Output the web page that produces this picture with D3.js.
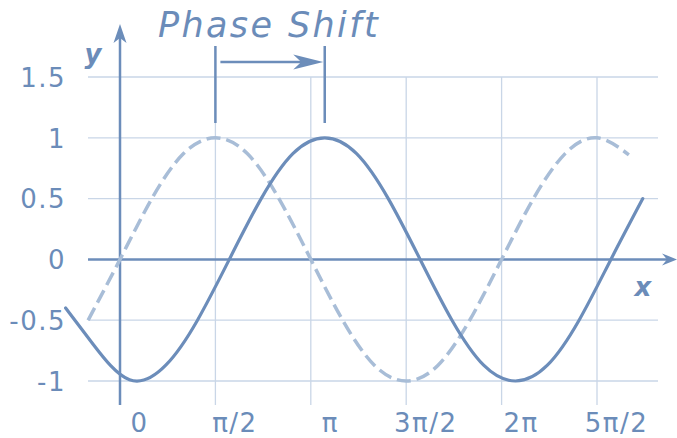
<!DOCTYPE html>
<html>
<head>
<meta charset="utf-8">
<script src="https://cdn.jsdelivr.net/npm/d3@7"></script>
<style>
  body { margin: 0; background: #fff; }
  text { font-family: "DejaVu Sans", Verdana, sans-serif; }
</style>
</head>
<body>
<div id="chart"></div>
<script>
// x values are in units of pi
var yTickValues = [-1, -0.5, 0, 0.5, 1, 1.5];
var yTickLabels = ["-1", "-0.5", "0", "0.5", "1", "1.5"];
var xTickValues = [0, 0.5, 1, 1.5, 2, 2.5];
var xTickLabels = ["0", "π/2", "π", "3π/2", "2π", "5π/2"];

// light dashed curve (original)
var dashX = [-0.167, 0, 0.167, 0.333, 0.5, 0.667, 0.833, 1, 1.167, 1.333, 1.5, 1.667, 1.833, 2, 2.167, 2.333, 2.5, 2.667];
var dashY = [-0.5, 0, 0.5, 0.87, 1, 0.87, 0.5, 0, -0.5, -0.87, -1, -0.87, -0.5, 0, 0.5, 0.87, 1, 0.86];

// solid curve (shifted)
var solidX = [-0.285, -0.14, 0.05, 0.24, 0.406, 0.573, 0.74, 0.906, 1.073, 1.24, 1.406, 1.573, 1.74, 1.906, 2.073, 2.24, 2.406, 2.573, 2.74];
var solidY = [-0.4, -0.7, -0.99, -0.87, -0.5, 0, 0.5, 0.87, 1, 0.87, 0.5, 0, -0.5, -0.87, -1, -0.87, -0.5, 0, 0.5];

// phase shift markers
var shiftFrom = 0.5, shiftTo = 1.073;

var width = 677, height = 438;
var axisColor = "#6c8dba",
  gridColor = "#c9d6e7",
  lightColor = "#a8bdd7",
  textColor = "#6b8cb9";

var x = d3.scaleLinear().domain([0, 2.5]).range([120, 597]);
var y = d3.scaleLinear().domain([-1, 1.5]).range([381, 77]);

var svg = d3
  .select("#chart")
  .append("svg")
  .attr("width", width)
  .attr("height", height);

// grid
svg
  .append("g")
  .selectAll("line")
  .data(yTickValues.filter(function (d) { return d != 0; }))
  .enter()
  .append("line")
  .attr("x1", 88)
  .attr("x2", 658)
  .attr("y1", function (d) { return y(d); })
  .attr("y2", function (d) { return y(d); })
  .attr("stroke", gridColor)
  .attr("stroke-width", 1.3);

svg
  .append("g")
  .selectAll("line")
  .data(xTickValues.filter(function (d) { return d != 0; }))
  .enter()
  .append("line")
  .attr("x1", function (d) { return x(d); })
  .attr("x2", function (d) { return x(d); })
  .attr("y1", y(1.5))
  .attr("y2", 405)
  .attr("stroke", gridColor)
  .attr("stroke-width", 1.3);

// axes lines
svg.append("line")
  .attr("x1", 88).attr("x2", 668)
  .attr("y1", y(0)).attr("y2", y(0))
  .attr("stroke", axisColor).attr("stroke-width", 2.5);
svg.append("line")
  .attr("x1", x(0)).attr("x2", x(0))
  .attr("y1", 405).attr("y2", 35)
  .attr("stroke", axisColor).attr("stroke-width", 2.5);

// arrow heads
function arrowHead(tip, dir, len, half, notch) {
  // dir: unit vector [dx, dy]
  var px = -dir[1], py = dir[0];
  var bx = tip[0] - dir[0] * len, by = tip[1] - dir[1] * len;
  var nx = tip[0] - dir[0] * (len - notch), ny = tip[1] - dir[1] * (len - notch);
  return "M" + tip[0] + "," + tip[1] +
    "L" + (bx + px * half) + "," + (by + py * half) +
    "L" + nx + "," + ny +
    "L" + (bx - px * half) + "," + (by - py * half) + "Z";
}
svg.append("path")
  .attr("d", arrowHead([677, y(0)], [1, 0], 15, 6, 5))
  .attr("fill", axisColor);
svg.append("path")
  .attr("d", arrowHead([x(0), 24], [0, -1], 19, 6.5, 5))
  .attr("fill", axisColor);

// curves
var line = d3
  .line()
  .x(function (d) { return x(d[0]); })
  .y(function (d) { return y(d[1]); })
  .curve(d3.curveNatural);

svg.append("path")
  .datum(d3.zip(dashX, dashY))
  .attr("d", line)
  .attr("fill", "none")
  .attr("stroke", lightColor)
  .attr("stroke-width", 3.5)
  .attr("stroke-dasharray", "14,6");

svg.append("path")
  .datum(d3.zip(solidX, solidY))
  .attr("d", line)
  .attr("fill", "none")
  .attr("stroke", axisColor)
  .attr("stroke-width", 3.2)
  .attr("stroke-linecap", "round");

// phase shift markers
svg.append("g")
  .selectAll("line")
  .data([shiftFrom, shiftTo])
  .enter()
  .append("line")
  .attr("x1", function (d) { return x(d); })
  .attr("x2", function (d) { return x(d); })
  .attr("y1", 46)
  .attr("y2", 123)
  .attr("stroke", axisColor)
  .attr("stroke-width", 2.5);

svg.append("line")
  .attr("x1", x(shiftFrom) + 5).attr("x2", x(shiftTo) - 20)
  .attr("y1", 62).attr("y2", 62)
  .attr("stroke", axisColor).attr("stroke-width", 2.5);
svg.append("path")
  .attr("d", arrowHead([x(shiftTo) - 1.5, 62], [1, 0], 30, 7.5, 8))
  .attr("fill", axisColor);

svg.append("text")
  .attr("x", 269)
  .attr("y", 37)
  .attr("text-anchor", "middle")
  .attr("font-size", 35)
  .attr("font-style", "italic")
  .attr("letter-spacing", 2.4)
  .attr("fill", textColor)
  .text("Phase Shift");

// tick labels
var yAxis = d3.axisLeft(y)
  .tickValues(yTickValues)
  .tickFormat(function (d, i) { return yTickLabels[i]; })
  .tickSize(0)
  .tickPadding(0);
var gy = svg.append("g")
  .attr("transform", "translate(66,0)")
  .call(yAxis);

var xAxis = d3.axisBottom(x)
  .tickValues(xTickValues)
  .tickFormat(function (d, i) { return xTickLabels[i]; })
  .tickSize(0)
  .tickPadding(0);
var gx = svg.append("g")
  .attr("transform", "translate(19,412)")
  .call(xAxis);

[gx, gy].forEach(function (g) {
  g.select(".domain").remove();
  g.selectAll("text")
    .attr("fill", textColor)
    .style("font-family", "'DejaVu Sans', Verdana, sans-serif")
    .style("font-size", "26px")
    .style("letter-spacing", "1.5px");
});
gx.selectAll("text").attr("dy", "0.76em");
gy.selectAll("text").attr("dy", "0.36em");

// axis names
svg.append("text")
  .attr("x", 643).attr("y", 296)
  .attr("text-anchor", "middle")
  .attr("font-size", 26)
  .attr("font-weight", "bold")
  .attr("font-style", "italic")
  .attr("fill", textColor)
  .text("x");
svg.append("text")
  .attr("x", 93).attr("y", 63)
  .attr("text-anchor", "middle")
  .attr("font-size", 26)
  .attr("font-weight", "bold")
  .attr("font-style", "italic")
  .attr("fill", textColor)
  .text("y");
</script>
</body>
</html>
